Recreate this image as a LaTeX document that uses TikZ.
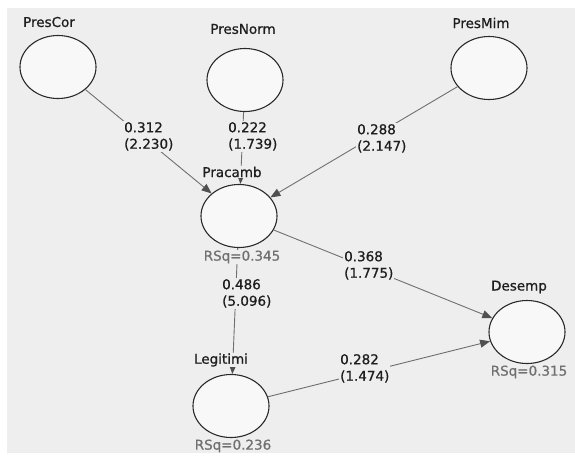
\documentclass[tikz,border=0pt]{standalone}
\usepackage{fontspec}
\setmainfont{DejaVu Sans}
\newfontfamily\heavyfont[FakeBold=0.8]{DejaVu Sans}
\usetikzlibrary{shapes.geometric,arrows.meta}
\definecolor{bgc}{HTML}{EEEEEE}
\definecolor{circfill}{HTML}{F8F8F8}
\definecolor{circline}{HTML}{2A2A2A}
\definecolor{edgec}{HTML}{707070}
\definecolor{tipc}{HTML}{505050}
\definecolor{txtc}{HTML}{1E1E1E}
\definecolor{rsqc}{HTML}{707070}
\tikzset{
  lv/.style={ellipse, draw=circline, line width=1.1pt, fill=circfill, minimum width=76pt, minimum height=63pt, inner sep=0pt},
  nm/.style={font=\heavyfont\fontsize{13.5}{15}\selectfont, text=txtc, inner sep=1pt},
  rsq/.style={font=\heavyfont\fontsize{13.5}{15}\selectfont, text=rsqc, inner sep=1pt},
  coef/.style={font=\heavyfont\fontsize{13.5}{16.5}\selectfont, text=txtc, align=left, fill=bgc, inner sep=1pt, anchor=north west},
  path/.style={draw=edgec, line width=0.9pt, -{Triangle[length=10pt,width=8pt,fill=tipc,color=tipc]}}
}
\begin{document}
\begin{tikzpicture}[x=1pt,y=-1pt]
\useasboundingbox (0,0) rectangle (575,459);
\fill[white] (0,0) rectangle (575,459);
\fill[bgc] (7,8) rectangle (575,453);

% latent variables
\node[lv] (cor) at (58,67) {};
\node[lv] (norm) at (245,80) {};
\node[lv] (mim) at (489,68) {};
\node[lv] (pra) at (239,216) {};
\node[lv] (des) at (527,332) {};
\node[lv] (leg) at (231,406) {};

% paths
\draw[path] (cor) -- (pra);
\draw[path] (norm) -- (pra);
\draw[path] (mim) -- (pra);
\draw[path] (pra) -- (des);
\draw[path] (pra) -- (leg);
\draw[path] (leg) -- (des);

% names
\node[nm] (lcor) at (49,22) {PresCor};
\node[nm] (lnorm) at (243,29) {PresNorm};
\node[nm] (lmim) at (481,23) {PresMim};
\node[nm, fill=bgc, inner sep=0.5pt] (lpra) at (232,172) {Pracamb};
\node[nm] (ldes) at (519,287) {Desemp};
\node[nm, fill=bgc, inner sep=0.5pt] (lleg) at (221,360) {Legitimi};

% R squared
\node[rsq, fill=bgc] (rpra) at (242,257) {RSq=0.345};
\node[rsq] (rdes) at (529,372) {RSq=0.315};
\node[rsq] (rleg) at (233,446) {RSq=0.236};

% coefficients
\node[coef] (c1) at (123,121) {0.312\\(2.230)};
\node[coef] (c2) at (227,121) {0.222\\(1.739)};
\node[coef] (c3) at (356,123) {0.288\\(2.147)};
\node[coef] (c4) at (343,250) {0.368\\(1.775)};
\node[coef] (c5) at (221,278) {0.486\\(5.096)};
\node[coef] (c6) at (339,353) {0.282\\(1.474)};
\end{tikzpicture}
\end{document}
